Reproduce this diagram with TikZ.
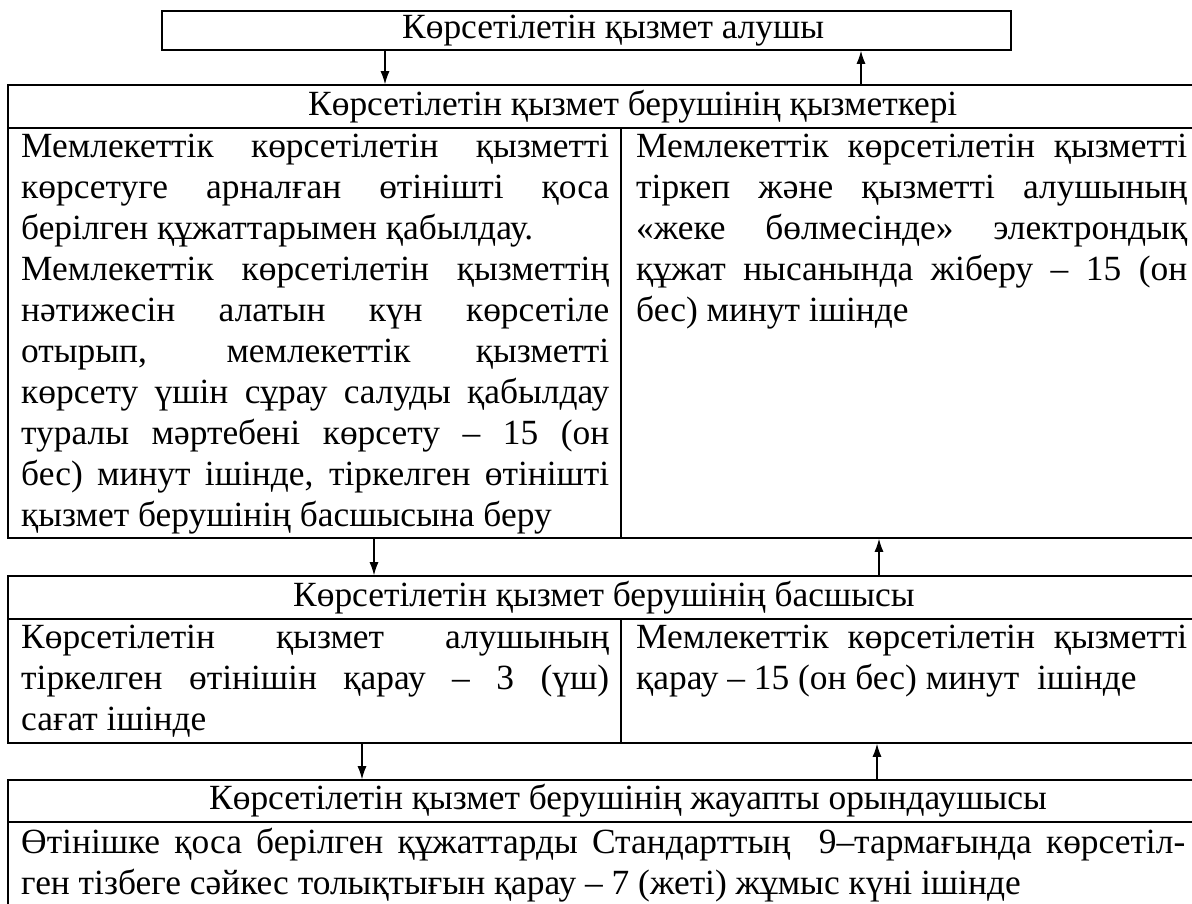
\documentclass[tikz,border=0pt]{standalone}
\usepackage{fontspec}
\setmainfont{Liberation Serif}
\usetikzlibrary{arrows.meta,positioning,fit}
\setlength{\parindent}{0pt}
\newcommand{\celltext}{\fontsize{35.4}{41}\selectfont\hyphenpenalty=10000\exhyphenpenalty=10000\tolerance=10000}
\tikzset{
	boxframe/.style={draw, line width=1.6pt, inner sep=0pt},
	rule/.style={line width=1.6pt},
	headtext/.style={font=\celltext, inner sep=0pt, anchor=west},
	celltxt/.style={font=\celltext, inner sep=0pt, anchor=north west, align=justify},
	flow/.style={-{Latex[length=13pt,width=9pt]}, line width=1.1pt}
}

\begin{document}
\begin{tikzpicture}[x=1pt, y=-1pt]
	\useasboundingbox (0,0) rectangle (1192,903);
	\clip (0,0) rectangle (1192,903);
	
	% frames
	\node[boxframe, fit={(162,11) (1011,50)}] (client) {};
	\node[boxframe, fit={(8,85) (1210,538)}] (staff) {};
	\node[boxframe, fit={(8,576) (1210,743)}] (head) {};
	\node[boxframe, fit={(8,780) (1210,920)}] (clerk) {};
	
	\coordinate (h2) at (0,128);
	\coordinate (h3) at (0,619);
	\coordinate (h4) at (0,822);
	\coordinate (col) at (621,0);
	
	\draw[rule] (staff.west |- h2) -- (staff.east |- h2);
	\draw[rule] (head.west |- h3) -- (head.east |- h3);
	\draw[rule] (clerk.west |- h4) -- (clerk.east |- h4);
	\draw[rule] (col |- h2) -- (col |- staff.south);
	\draw[rule] (col |- h3) -- (col |- head.south);
	
	% headers
	\node[headtext] (t1) at (402,31) {Көрсетілетін қызмет алушы};
	\node[headtext] (t2) at (308,107) {Көрсетілетін қызмет берушінің қызметкері};
	\node[headtext] (t3) at (293,598) {Көрсетілетін қызмет берушінің басшысы};
	\node[headtext] (t4) at (209,801) {Көрсетілетін қызмет берушінің жауапты орындаушысы};
	
	% cells
	\node[celltxt, text width=588pt] (s1) at (21,134) {Мемлекеттік көрсетілетін қызметті\linebreak көрсетуге арналған өтінішті қоса\linebreak берілген құжаттарымен қабылдау.\\ Мемлекеттік көрсетілетін қызметтің\linebreak нәтижесін алатын күн көрсетіле\linebreak отырып, мемлекеттік қызметті\linebreak көрсету үшін сұрау салуды қабылдау\linebreak туралы мәртебені көрсету – 15 (он\linebreak бес) минут ішінде, тіркелген өтінішті\linebreak қызмет берушінің басшысына беру};
	\node[celltxt, text width=551pt] (s2) at (636,134) {Мемлекеттік көрсетілетін қызметті\linebreak тіркеп және қызметті алушының\linebreak «жеке бөлмесінде» электрондық\linebreak құжат нысанында жіберу – 15 (он\linebreak бес) минут ішінде};
	\node[celltxt, text width=588pt] (b1) at (21,625) {Көрсетілетін қызмет алушының\linebreak тіркелген өтінішін қарау – 3 (үш)\linebreak сағат ішінде};
	\node[celltxt, text width=551pt] (b2) at (636,625) {Мемлекеттік көрсетілетін қызметті\linebreak қарау – 15 (он бес) минут~ ішінде};
	\node[celltxt, text width=1164pt] (c1) at (21,828) {Өтінішке қоса берілген құжаттарды Стандарттың~ 9–тармағында көрсетіл-\linebreak ген тізбеге сәйкес толықтығын қарау – 7 (жеті) жұмыс күні ішінде};
	
	% arrows
	\coordinate (a1) at (385,0);
	\coordinate (a2) at (861,0);
	\coordinate (a3) at (374,0);
	\coordinate (a4) at (879,0);
	\coordinate (a5) at (362,0);
	\coordinate (a6) at (877,0);
	
	\draw[flow] (client.south -| a1) -- (staff.north -| a1);
	\draw[flow] (staff.north -| a2) -- (client.south -| a2);
	\draw[flow] (staff.south -| a3) -- (head.north -| a3);
	\draw[flow] (head.north -| a4) -- (staff.south -| a4);
	\draw[flow] (head.south -| a5) -- (clerk.north -| a5);
	\draw[flow] (clerk.north -| a6) -- (head.south -| a6);
\end{tikzpicture}
\end{document}
